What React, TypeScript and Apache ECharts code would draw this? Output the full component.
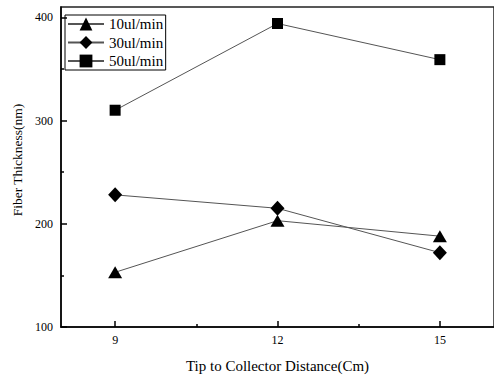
import React, { useEffect, useRef } from "react";
import * as echarts from "echarts";

const distances = [9, 12, 15];
const series10 = [153, 203, 188];
const series30 = [228, 215, 172];
const series50 = [310, 394, 359];
const seriesNames = ["10ul/min", "30ul/min", "50ul/min"];
const xMajorTicks = [9, 12, 15];
const xMinorTicks = [10.5, 13.5];
const yMajorTicks = [100, 200, 300, 400];
const yMinorTicks = [150, 250, 350];
const yTitle = "Fiber Thickness(nm)";
const xTitle = "Tip to Collector Distance(Cm)";

const FONT = "Liberation Serif";

export default function App() {
  const ref = useRef<HTMLDivElement>(null);
  useEffect(() => {
    if (!ref.current) return;
    const chart = echarts.init(ref.current, undefined, { renderer: "svg" });
    const mk = (vals: number[]) => distances.map((d, i) => [d, vals[i]]);
    const lineStyle = { color: "#555", width: 1 };
    chart.setOption({
      animation: false,
      backgroundColor: "#fff",
      grid: {
        left: 61,
        top: 7,
        width: 436,
        height: 322.5,
        show: true,
        borderColor: "#222",
        borderWidth: 1.5,
      },
      legend: {
        orient: "vertical",
        left: 65,
        top: 15,
        data: seriesNames,
        borderColor: "#000",
        borderWidth: 1,
        padding: [1.5, 2.5, 1.5, 2],
        itemGap: 3.5,
        itemWidth: 36,
        itemHeight: 16,
        textStyle: { fontFamily: FONT, fontSize: 15, color: "#000" },
      },
      graphic: [
        {
          type: "text",
          x: 17,
          y: 160,
          rotation: Math.PI / 2,
          style: {
            text: yTitle,
            fontFamily: FONT,
            fontSize: 13.5,
            fill: "#000",
            align: "center",
            verticalAlign: "middle",
          },
        },
      ],
      xAxis: [
        {
          type: "value",
          min: 8,
          max: 16,
          position: "bottom",
          splitLine: { show: false },
          axisLine: { show: true, lineStyle: { color: "#000", width: 1.5 } },
          axisTick: { show: true, inside: true, length: 6, customValues: xMajorTicks, lineStyle: { color: "#000", width: 1.5 } },
          axisLabel: { customValues: xMajorTicks, fontFamily: FONT, fontSize: 12, color: "#000", margin: 7 },
          name: xTitle,
          nameLocation: "middle",
          nameGap: 31,
          nameTextStyle: { fontFamily: FONT, fontSize: 15, color: "#000" },
        },
        {
          type: "value",
          min: 8,
          max: 16,
          position: "bottom",
          splitLine: { show: false },
          axisLine: { show: false },
          axisTick: { show: true, inside: true, length: 3, customValues: xMinorTicks, lineStyle: { color: "#000", width: 1.5 } },
          axisLabel: { show: false },
        },
      ],
      yAxis: [
        {
          type: "value",
          min: 100,
          max: 410,
          position: "left",
          splitLine: { show: false },
          axisLine: { show: true, lineStyle: { color: "#000", width: 1.5 } },
          axisTick: { show: true, inside: true, length: 6, customValues: yMajorTicks, lineStyle: { color: "#000", width: 1.5 } },
          axisLabel: { customValues: yMajorTicks, fontFamily: FONT, fontSize: 12, color: "#000", margin: 8 },
        },
        {
          type: "value",
          min: 100,
          max: 410,
          position: "left",
          splitLine: { show: false },
          axisLine: { show: false },
          axisTick: { show: true, inside: true, length: 3, customValues: yMinorTicks, lineStyle: { color: "#000", width: 1.5 } },
          axisLabel: { show: false },
        },
      ],
      series: [
        {
          name: seriesNames[0],
          type: "line",
          data: mk(series10),
          symbol: "triangle",
          symbolSize: [14, 12],
          itemStyle: { color: "#000" },
          lineStyle,
        },
        {
          name: seriesNames[1],
          type: "line",
          data: mk(series30),
          symbol: "diamond",
          symbolSize: [14, 15],
          itemStyle: { color: "#000" },
          lineStyle,
        },
        {
          name: seriesNames[2],
          type: "line",
          data: mk(series50),
          symbol: "rect",
          symbolSize: 11,
          itemStyle: { color: "#000" },
          lineStyle,
        },
      ],
    });
    return () => chart.dispose();
  }, []);
  return (
    <div
      ref={ref}
      style={{ position: "fixed", left: 0, top: 0, width: 494, height: 378 }}
    />
  );
}
